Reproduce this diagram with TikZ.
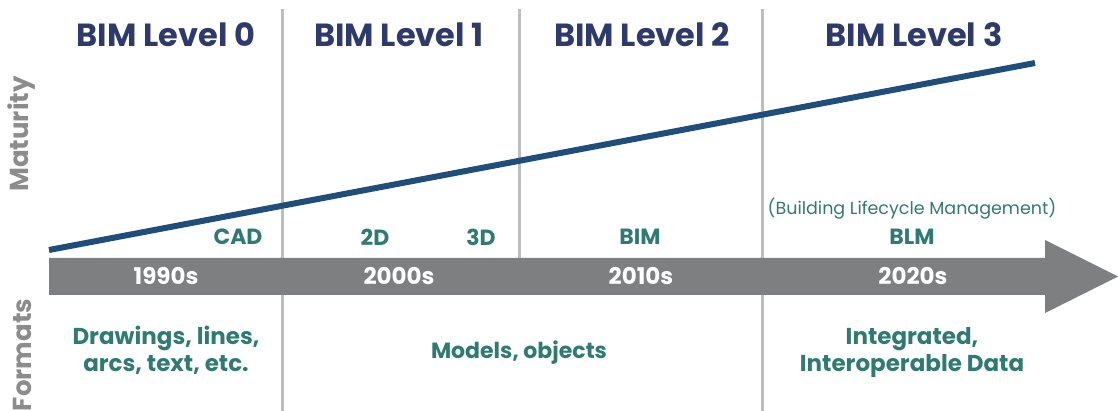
\documentclass[tikz,border=0pt]{standalone}
\usepackage{fontspec}
\setmainfont{Poppins}
\newfontfamily\pregular{Poppins}
\definecolor{navy}{HTML}{2E3A6B}
\definecolor{mline}{HTML}{1F4E7A}
\definecolor{teal}{HTML}{2F7B74}
\definecolor{arrowgray}{HTML}{7E7F81}
\definecolor{divgray}{HTML}{BCBEC0}
\definecolor{sidegray}{HTML}{8C8C8C}
\begin{document}
\begin{tikzpicture}[x=1pt,y=-1pt,
  level/.style={font=\bfseries\fontsize{32}{34}\selectfont, text=navy},
  year/.style={font=\bfseries\fontsize{23}{26}\selectfont, text=white},
  fmt/.style={font=\bfseries\fontsize{22}{24}\selectfont, text=teal},
  fmtb/.style={font=\bfseries\fontsize{23}{27}\selectfont, text=teal, align=center},
  side/.style={font=\bfseries\fontsize{26}{28}\selectfont, text=sidegray, rotate=90},
  divider/.style={draw=divgray, line width=3pt}]
\useasboundingbox (0,0) rectangle (1118,411);
% dividers
\coordinate (dat) at (282,9);  \coordinate (dab) at (282,411);
\coordinate (dbt) at (519,9);  \coordinate (dbb) at (519,260);
\coordinate (dct) at (762,9);  \coordinate (dcb) at (762,411);
\draw[divider] (dat) -- (dab);
\draw[divider] (dbt) -- (dbb);
\draw[divider] (dct) -- (dcb);
% arrow
\fill[arrowgray] (49,258) -- (1045,258) -- (1045,240) -- (1118,276.5) -- (1045,313) -- (1045,295) -- (49,295) -- cycle;
% maturity line
\coordinate (ms) at (49,250);
\coordinate (me) at (1035,63);
\draw[mline, line width=6pt] (ms) -- (me);
% headings
\node[level] (l0) at (166,35) {BIM Level 0};
\node[level] (l1) at (399,35) {BIM Level 1};
\node[level] (l2) at (642,35) {BIM Level 2};
\node[level] (l3) at (914,35) {BIM Level 3};
% years
\node[year] (y0) at (166,276) {1990s};
\node[year] (y1) at (399,276) {2000s};
\node[year] (y2) at (641,276) {2010s};
\node[year] (y3) at (913,276) {2020s};
% tech labels
\node[fmt] (cad) at (238,237) {CAD};
\node[fmt] (t2d) at (375,237) {2D};
\node[fmt] (t3d) at (481,237) {3D};
\node[fmt] (bim) at (640,237) {BIM};
\node[fmt] (blm) at (912,237) {BLM};
\node[font=\pregular\fontsize{17.5}{20}\selectfont, text=teal] (blmfull) at (912,209) {(Building Lifecycle Management)};
% formats
\node[fmtb] (f0) at (166,350) {Drawings, lines,\\arcs, text, etc.};
\node[fmt] (f1) at (519,353) {Models, objects};
\node[fmtb] (f3) at (912,353) {Integrated,\\Interoperable Data};
% side labels
\node[side] (mat) at (22,134) {Maturity};
\node[side] (for) at (22,355) {Formats};
\end{tikzpicture}
\end{document}
